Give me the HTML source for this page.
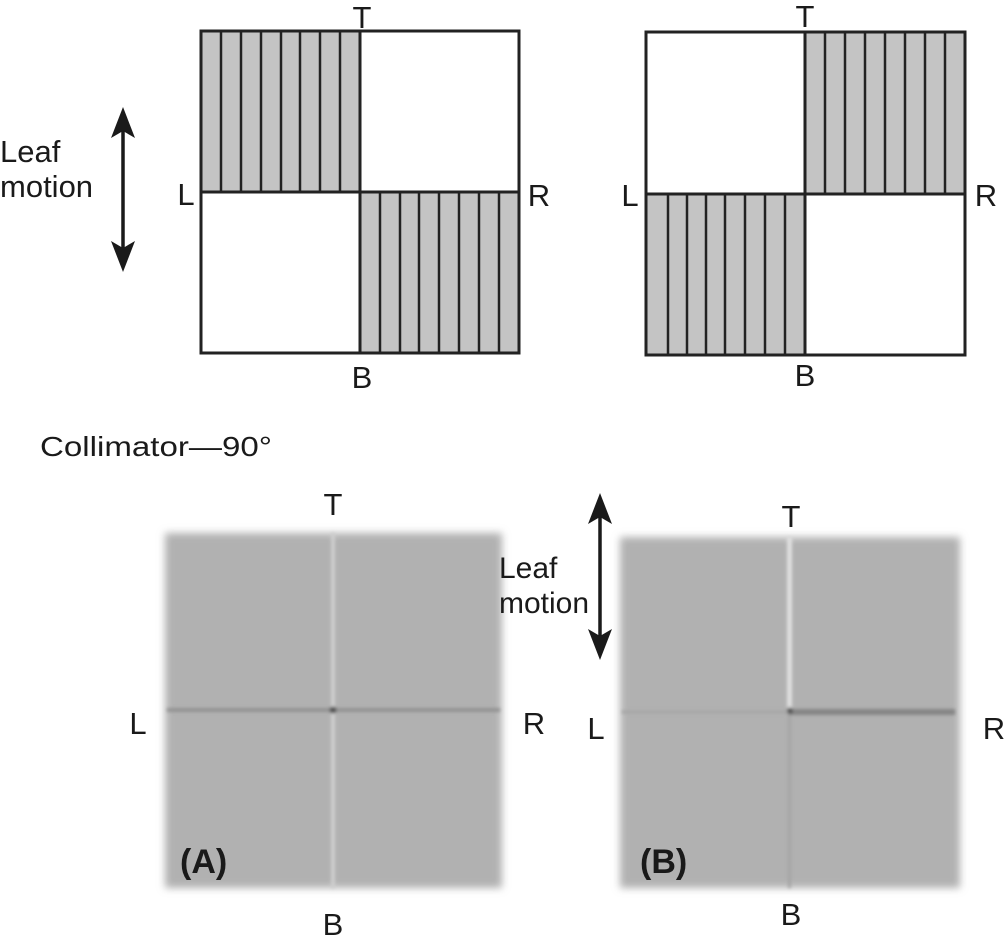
<!DOCTYPE html>
<html><head><meta charset="utf-8"><style>
html,body{margin:0;padding:0;background:#fff;}
svg{display:block;}
text{font-family:"Liberation Sans",sans-serif;fill:#1a1a1a;}
</style></head><body>
<svg width="1004" height="939" viewBox="0 0 1004 939" xmlns="http://www.w3.org/2000/svg">
<defs>
<filter id="bl" x="-10%" y="-10%" width="120%" height="120%"><feGaussianBlur stdDeviation="4"/></filter>
<filter id="bl2" filterUnits="userSpaceOnUse" x="0" y="0" width="1004" height="939"><feGaussianBlur stdDeviation="1.7"/></filter>
</defs>
<rect x="201" y="31" width="159" height="161" fill="#c4c4c4"/>
<rect x="360" y="192" width="159" height="161" fill="#c4c4c4"/>
<g stroke="#222" stroke-width="2.5">
<line x1="221" y1="31" x2="221" y2="192"/><line x1="241" y1="31" x2="241" y2="192"/><line x1="261" y1="31" x2="261" y2="192"/><line x1="281" y1="31" x2="281" y2="192"/><line x1="300" y1="31" x2="300" y2="192"/><line x1="320" y1="31" x2="320" y2="192"/><line x1="340" y1="31" x2="340" y2="192"/>
<line x1="380" y1="192" x2="380" y2="353"/><line x1="400" y1="192" x2="400" y2="353"/><line x1="419" y1="192" x2="419" y2="353"/><line x1="439" y1="192" x2="439" y2="353"/><line x1="459" y1="192" x2="459" y2="353"/><line x1="479" y1="192" x2="479" y2="353"/><line x1="499" y1="192" x2="499" y2="353"/>
</g>
<g stroke="#222" stroke-width="3" fill="none">
<rect x="201" y="31" width="318" height="322"/>
<line x1="360" y1="31" x2="360" y2="353"/>
<line x1="201" y1="192" x2="519" y2="192"/>
</g>
<rect x="805" y="32" width="160" height="162" fill="#c4c4c4"/>
<rect x="646" y="194" width="159" height="161" fill="#c4c4c4"/>
<g stroke="#222" stroke-width="2.5">
<line x1="825" y1="32" x2="825" y2="194"/><line x1="845" y1="32" x2="845" y2="194"/><line x1="865" y1="32" x2="865" y2="194"/><line x1="885" y1="32" x2="885" y2="194"/><line x1="905" y1="32" x2="905" y2="194"/><line x1="925" y1="32" x2="925" y2="194"/><line x1="945" y1="32" x2="945" y2="194"/>
<line x1="668" y1="194" x2="668" y2="355"/><line x1="687" y1="194" x2="687" y2="355"/><line x1="706" y1="194" x2="706" y2="355"/><line x1="725" y1="194" x2="725" y2="355"/><line x1="745" y1="194" x2="745" y2="355"/><line x1="765" y1="194" x2="765" y2="355"/><line x1="785" y1="194" x2="785" y2="355"/>
</g>
<g stroke="#222" stroke-width="3" fill="none">
<rect x="646" y="32" width="319" height="323"/>
<line x1="805" y1="32" x2="805" y2="355"/>
<line x1="646" y1="194" x2="965" y2="194"/>
</g>
<g font-size="31" text-anchor="middle">
<text x="362" y="28">T</text><text x="362" y="388">B</text>
<text x="186" y="205">L</text><text x="539" y="206">R</text>
<text x="805" y="27">T</text><text x="805" y="386">B</text>
<text x="630" y="206">L</text><text x="986" y="206">R</text>
</g>
<line x1="123" y1="130" x2="123" y2="250" stroke="#1a1a1a" stroke-width="3.5"/>
<polygon points="123,107 111,138 123,131 135,138" fill="#1a1a1a"/>
<polygon points="123,272 111,241 123,248 135,241" fill="#1a1a1a"/>
<text x="0" y="162" font-size="31">Leaf</text>
<text x="0" y="197" font-size="31">motion</text>
<text x="40" y="456" font-size="28" textLength="232" lengthAdjust="spacingAndGlyphs">Collimator—90°</text>
<rect x="165" y="533" width="337" height="355" fill="#b1b1b1" filter="url(#bl)"/>
<g filter="url(#bl2)">
<rect x="331" y="533" width="4" height="355" fill="#cfcfcf"/>
<rect x="167" y="708" width="333" height="4" fill="#939393"/>
<circle cx="333" cy="710" r="3.5" fill="#555"/>
</g>
<rect x="620" y="537" width="340" height="351" fill="#b1b1b1" filter="url(#bl)"/>
<g filter="url(#bl2)">
<rect x="787" y="537" width="5" height="170" fill="#e0e0e0"/>
<rect x="788" y="712" width="3" height="176" fill="#a4a4a4"/>
<rect x="622" y="710" width="167" height="4" fill="#a8a8a8"/>
<rect x="789" y="709" width="166" height="6" fill="#858585"/>
<circle cx="790" cy="711" r="3" fill="#555"/>
</g>
<g font-size="31" text-anchor="middle">
<text x="333" y="515">T</text><text x="333" y="935">B</text>
<text x="138" y="734">L</text><text x="534" y="734">R</text>
<text x="791" y="527">T</text><text x="791" y="925">B</text>
<text x="596" y="739">L</text><text x="994" y="739">R</text>
</g>
<text x="180" y="873" font-size="34" font-weight="bold">(A)</text>
<text x="640" y="873" font-size="34" font-weight="bold">(B)</text>
<line x1="600" y1="515" x2="600" y2="640" stroke="#1a1a1a" stroke-width="3.5"/>
<polygon points="600,493 588,524 600,517 612,524" fill="#1a1a1a"/>
<polygon points="600,660 588,629 600,636 612,629" fill="#1a1a1a"/>
<text x="499" y="578" font-size="30">Leaf</text>
<text x="499" y="613" font-size="30">motion</text>
</svg>
</body></html>
